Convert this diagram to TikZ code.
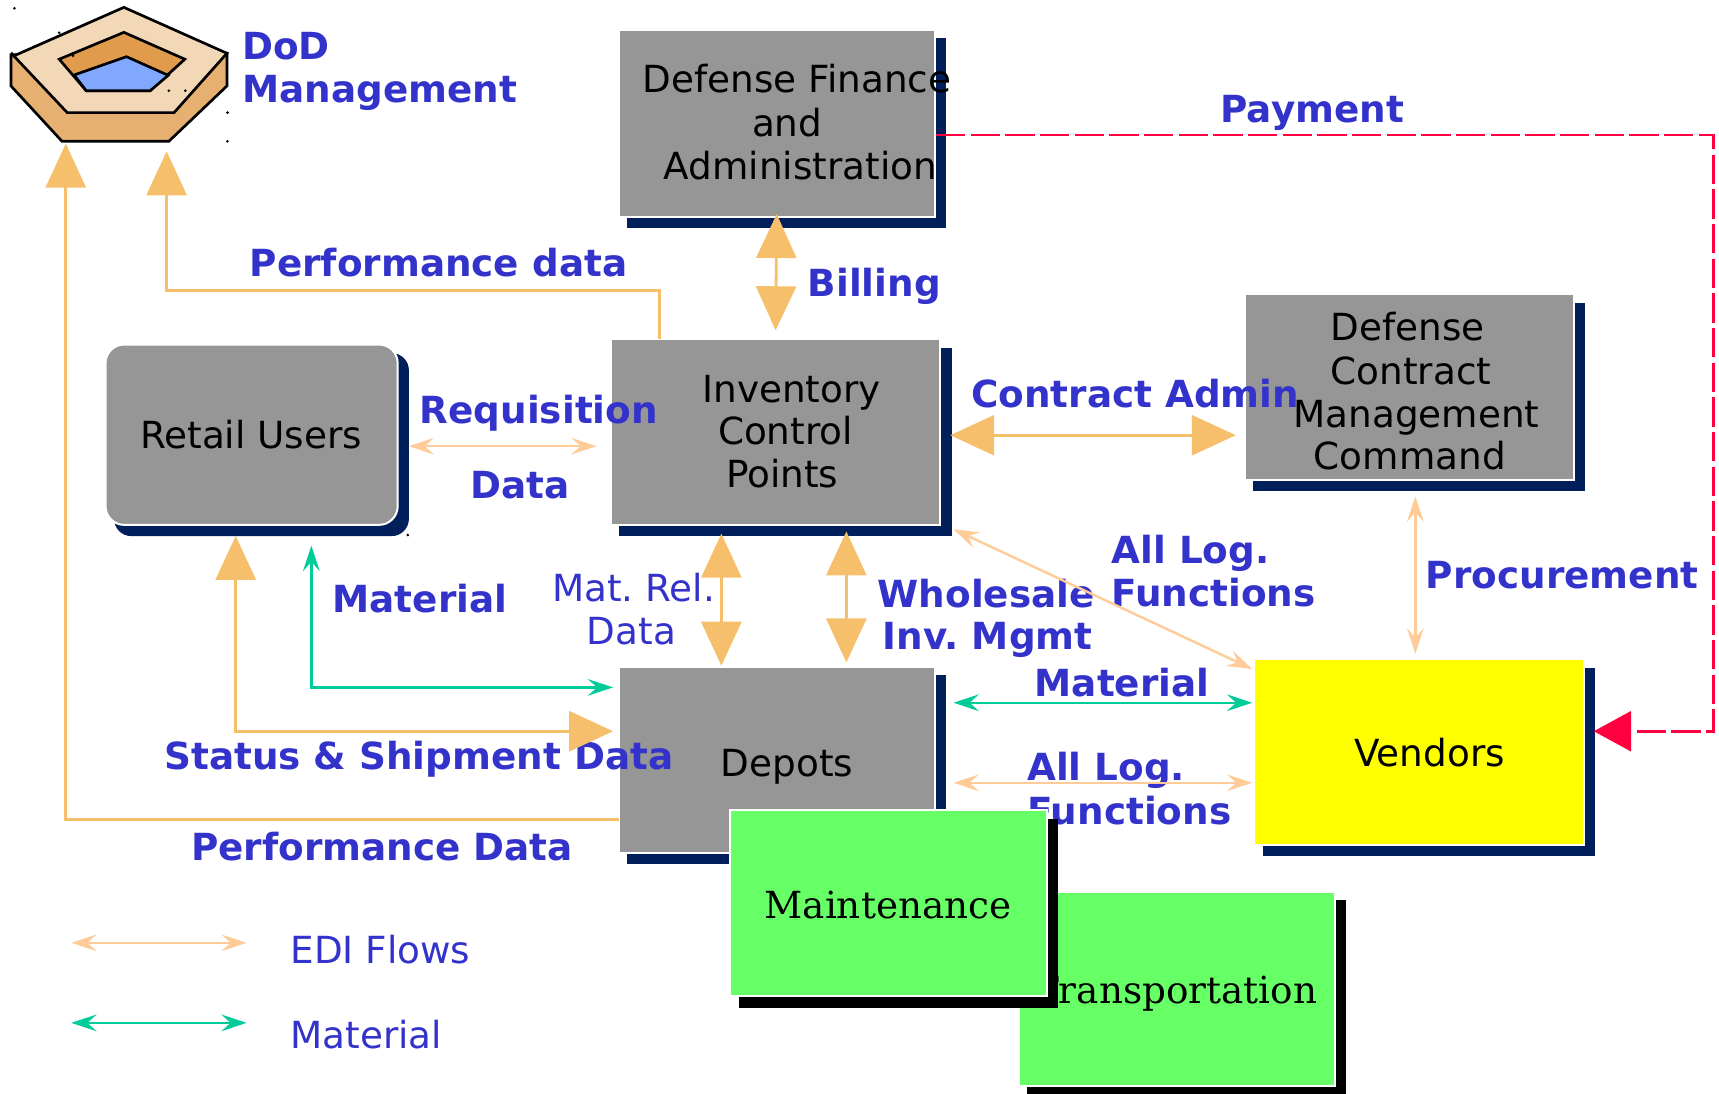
\documentclass[tikz,border=0pt]{standalone}
\usepackage{fontspec}
\setmainfont{DejaVu Sans}
\newfontfamily\seriffam{DejaVu Serif}
\usetikzlibrary{calc,arrows.meta}
\frenchspacing
\definecolor{orng}{HTML}{F6BF6B}
\definecolor{peach}{HTML}{FFCC99}
\definecolor{mint}{HTML}{00CC99}
\definecolor{redc}{HTML}{FF0040}
\definecolor{navy}{HTML}{001F5B}
\definecolor{grayb}{HTML}{969696}
\definecolor{lime}{HTML}{66FF66}
\definecolor{yell}{HTML}{FFFF00}
\definecolor{blu}{HTML}{3333CC}
\definecolor{pentop}{HTML}{F3D8B8}
\definecolor{penside}{HTML}{E6B070}
\definecolor{peninner}{HTML}{E09C4C}
\definecolor{penblue}{HTML}{80A8FF}
\def\pxu{0.82223pt}
\tikzset{
  x=\pxu, y=-\pxu,
  sysnode/.style={draw=white,line width=1.5pt,inner sep=0pt,outer sep=0pt},
  boxtext/.style={anchor=base,inner sep=0pt,outer sep=0pt,font=\fontsize{28}{33}\selectfont,text=black},
  sertext/.style={anchor=base,inner sep=0pt,outer sep=0pt,font=\fontsize{28}{33}\seriffam\selectfont,text=black},
  boldlab/.style={anchor=base,inner sep=0pt,outer sep=0pt,font=\fontsize{28}{33}\bfseries\selectfont,text=blu},
  bluelab/.style={anchor=base,inner sep=0pt,outer sep=0pt,font=\fontsize{28}{33}\selectfont,text=blu},
  bigboth/.style={draw=orng,line width=2.1pt,{Triangle[length=33pt,width=30pt]}-{Triangle[length=33pt,width=30pt]}},
  bigend/.style={draw=orng,line width=2.1pt,-{Triangle[length=33pt,width=30pt]}},
  smallboth/.style={line width=1.8pt,{Stealth[length=19pt,width=12.5pt,inset=7pt]}-{Stealth[length=19pt,width=12.5pt,inset=7pt]}},
  penline/.style={draw=black,line width=2pt,line join=miter},
}
% name, x0, y0, x1, y1, fill colour, shadow colour
\newcommand\sysbox[7]{%
  \fill[#7] (#2+7,#3+7) rectangle (#4+11,#5+11);
  \node[sysnode,fill=#6,minimum width={(#4-#2+1.5)*\pxu},minimum height={(#5-#3+1.5)*\pxu}] (#1) at ({(#2+#4)/2},{(#3+#5)/2}) {};
}
\begin{document}
\begin{tikzpicture}
\useasboundingbox (0,0) rectangle (1568,997);
% pentagon
\filldraw[penline,fill=penside] (10,50) -- (10,78.4) -- (56.6,128.9) -- (154,128.9) -- (207,78.4) -- (207,48.6) -- cycle;
\filldraw[penline,fill=pentop] (12.6,51) -- (113,6.7) -- (207,48.6) -- (158.8,102.7) -- (61.3,102.7) -- cycle;
\filldraw[penline,fill=peninner] (54,54) -- (113,29.5) -- (168.6,54) -- (137,82.7) -- (78.6,82.7) -- cycle;
\filldraw[penline,fill=penblue] (67.6,68.4) -- (115.4,51.7) -- (153.5,68.7) -- (137,82.7) -- (78.6,82.7) -- cycle;
\foreach \dx/\dy in {13.2/7.6,54/29.8,11/48.6,66.7/51,154/82.7,169/82.7,207.5/102.7,207.5/128.9,362/478,372/488}
  \fill[black] (\dx,\dy) circle (1.3);
\coordinate (dodA) at (60,131);
\coordinate (dodB) at (152,138);
\coordinate (paycorner) at (1563,667);
\coordinate (ediL) at (65,860);
\coordinate (ediR) at (225,860);
\coordinate (matL) at (65,933);
\coordinate (matR) at (225,933);
% labels under boxes
\node[boldlab,anchor=base west] (tdod) at (221,54) {DoD};
\node[boldlab,anchor=base west] (tmgmt) at (221,93.5) {Management};
\node[boldlab] (tpay) at (1197,111.5) {Payment};
\node[boldlab] (tperf) at (400,252.5) {Performance data};
\node[boldlab] (tbill) at (797.5,270.5) {Billing};
\node[boldlab] (tdata) at (474,454.5) {Data};
\node[boldlab,anchor=base west] (tlog1) at (1014,514) {All Log.};
\node[boldlab,anchor=base west] (tfun1) at (1014,553.5) {Functions};
\node[boldlab] (tproc) at (1425,536.5) {Procurement};
\node[boldlab] (tmat1) at (383,558.5) {Material};
\node[bluelab] (trel1) at (578,548.5) {Mat. Rel.};
\node[bluelab] (trel2) at (576,587.5) {Data};
\node[boldlab] (twh) at (899.5,554.5) {Wholesale};
\node[boldlab] (tinv) at (901,592.5) {Inv. Mgmt};
\node[boldlab] (tmat2) at (1023.5,635.5) {Material};
\node[boldlab,anchor=base west] (tlog2) at (937,711.5) {All Log.};
\node[boldlab,anchor=base west] (tfun2) at (937,752) {Functions};
\node[boldlab] (tperf2) at (348.5,784.5) {Performance Data};
\node[bluelab,anchor=base west] (tedi) at (265,878.5) {EDI Flows};
\node[bluelab,anchor=base west] (tmat3) at (265,956.5) {Material};
% boxes
\sysbox{fin}{565}{28}{852}{197}{grayb}{navy}
\sysbox{icp}{558}{310}{857}{478}{grayb}{navy}
\fill[navy,rounded corners=13pt] (104,322) rectangle (373,489);
\node[sysnode,fill=grayb,rounded corners=14pt,minimum width={266.5*\pxu},minimum height={164.5*\pxu}] (retail) at (229.5,396.5) {};
\sysbox{dcmc}{1136}{269}{1435}{437}{grayb}{navy}
\sysbox{depots}{565}{609}{852}{777}{grayb}{navy}
\sysbox{vend}{1145}{602}{1444}{770}{yell}{navy}
\sysbox{trans}{930}{814}{1217}{990}{lime}{black}
\node[sertext,anchor=base east] (ttrans) at (1201.5,915.5) {Transportation};
\sysbox{maint}{667}{740}{954}{908}{lime}{black}
\node[sertext] (tmaint) at (810,837.5) {Maintenance};
% box text
\node[boxtext] (f1) at (727,84.5) {Defense Finance};
\node[boxtext] (f2) at (718,124.5) {and};
\node[boxtext] (f3) at (730,163.5) {Administration};
\node[boxtext] (i1) at (722,367) {Inventory};
\node[boxtext] (i2) at (716.5,405) {Control};
\node[boxtext] (i3) at (713.5,444.5) {Points};
\node[boxtext] (r1) at (229,409.5) {Retail Users};
\node[boxtext] (d1) at (1284,311) {Defense};
\node[boxtext] (d2) at (1287,350.5) {Contract};
\node[boxtext] (d3) at (1292,389.5) {Management};
\node[boxtext] (d4) at (1286,428) {Command};
\node[boxtext] (dp) at (718,708.5) {Depots};
\node[boxtext] (vn) at (1304,699.5) {Vendors};
\node[boldlab] (treq) at (491.5,386.5) {Requisition};
\node[boldlab] (tca) at (1035.5,371.5) {Contract Admin};
\node[boldlab] (tstat) at (382,701.5) {Status \& Shipment Data};
% connectors
\draw[bigboth] ($(fin.south)+(0,-2.5)$) -- ($(icp.north)+(0,-8)$);
\draw[bigend] ($(icp.north west)+(44,0)$) -- ++(0,-44) -| (dodB);
\draw[smallboth,peach] ($(retail.east)+(10,10.5)$) -- ($(icp.west)+(-13,13)$);
\draw[bigboth] ($(icp.east)+(9,3)$) -- ($(dcmc.west)+(-8,44)$);
\draw[smallboth,peach] ($(dcmc.south)+(5.5,15)$) -- ($(vend.north)+(-3.5,-5)$);
\draw[smallboth,peach] ($(icp.south east)+(12,4)$) -- ($(vend.north west)+(-2,9)$);
\draw[bigboth] ($(icp.south)+(-49.5,8)$) -- ($(depots.north)+(-50.5,-1)$);
\draw[bigboth] ($(icp.south)+(64.5,6)$) -- ($(depots.north)+(63.5,-4)$);
\draw[smallboth,mint] ($(retail.south)+(54.5,19)$) |- ($(depots.west)+(-5,-66)$);
\draw[bigboth] ($(retail.south)+(-14.5,10)$) |- ($(depots.west)+(-5,-26)$);
\draw[bigend] ($(depots.south west)+(0,-30)$) -| (dodA);
\draw[smallboth,mint] ($(depots.east)+(17,-52)$) -- ($(vend.west)+(-2,-45)$);
\draw[smallboth,peach] ($(depots.east)+(17,21)$) -- ($(vend.west)+(-2,28)$);
\draw[draw=redc,line width=1.9pt,dash pattern=on 22pt off 4pt,-{Triangle[length=28pt,width=30pt]}] ($(fin.east)+(1,10.5)$) -| (paycorner) -- ($(vend.east)+(9,-19)$);
\draw[smallboth,peach] (ediL) -- (ediR);
\draw[smallboth,mint] (matL) -- (matR);
\end{tikzpicture}
\end{document}
